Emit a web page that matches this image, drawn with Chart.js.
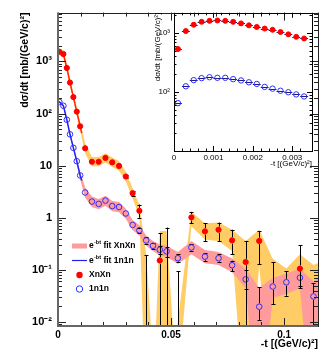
<!DOCTYPE html>
<html><head><meta charset="utf-8">
<script src="https://cdn.jsdelivr.net/npm/chart.js@4.4.1/dist/chart.umd.min.js"></script>
<style>
html,body{margin:0;padding:0;background:#fff;}
#wrap{position:relative;width:332px;height:354px;overflow:hidden;}
#main{position:absolute;left:0;top:0;width:332px;height:354px;}
#inset{position:absolute;left:145px;top:4px;width:172px;height:166px;}
</style></head><body>
<div id="wrap">
<canvas id="main" width="332" height="354"></canvas>
<canvas id="inset" width="172" height="166"></canvas>
</div>
<script>
// ---------- main panel data ----------
const tBins = [0.0006,0.0024,0.0039,0.0053,0.0068,0.0083,0.0098,0.012,0.015,0.018,0.021,0.024,0.027,0.030,0.033,0.036,0.039,0.042,0.045,0.048,0.053,0.059,0.065,0.071,0.077,0.083,0.089,0.095,0.101,0.107,0.113];
const xnxn   = [1535,1386,750,394,207,109,57,21.6,11.9,11.9,14.1,11.6,9.9,6.2,2.97,1.36,null,null,0.152,null,null,1.02,0.55,0.59,0.37,0.142,0.36,null,null,0.106,null];
const xnxnHi = [null,null,null,null,null,null,null,null,null,null,null,null,null,6.7,3.3,1.8,0.19,null,0.51,0.65,0.094,1.3,0.79,0.81,0.59,0.36,0.56,null,null,0.30,null];
const xnxnLo = [null,null,null,null,null,null,null,null,null,null,null,null,null,5.7,2.65,1.0,0.0001,null,0.0001,0.0001,0.0001,0.79,0.36,0.36,0.2,0.0001,0.13,null,null,0.05,null];
const n1n1   = [167,141,76,40,22,12.2,6.5,3.06,2.05,1.85,2.14,1.68,1.61,1.21,0.73,0.575,0.368,0.29,0.244,0.227,0.168,0.27,0.18,0.168,0.123,0.066,0.0197,0.048,0.058,0.071,0.031];
const n1n1Hi = [null,null,null,null,null,null,null,null,null,null,null,null,null,null,null,0.65,0.42,0.33,0.29,0.28,0.2,0.31,0.21,0.2,0.15,0.1,0.047,0.14,0.095,0.11,0.056];
const n1n1Lo = [null,null,null,null,null,null,null,null,null,null,null,null,null,null,null,0.5,0.32,0.25,0.2,0.18,0.14,0.23,0.15,0.14,0.095,0.043,0.011,0.022,0.032,0.045,0.0001];

// systematic bands
const orangeT  = [0.0006,0.0024,0.0039,0.0053,0.0068,0.0083,0.0098,0.012,0.015,0.018,0.021,0.024,0.027,0.030,0.033,0.036,0.039,0.0425,0.045,0.048,0.0515,0.059,0.065,0.071,0.077,0.083,0.089,0.095,0.101,0.107,0.113,0.117];
const orangeHi = [1800,1620,880,460,245,130,69,27,14.6,14.6,17.3,14.3,12.2,7.7,3.7,1.75,0.2,0.001,0.56,0.56,0.003,1.3,0.79,0.81,0.59,0.36,0.59,0.164,0.106,0.2,0.124,0.15];
const orangeLo = [1300,1180,640,335,175,91,47,17.4,9.7,9.7,11.5,9.4,8.0,5.0,2.35,1.05,0.0001,0.0001,0.0001,0.0001,0.0001,0.69,0.38,0.36,0.23,0.0001,0.124,0.0001,0.0001,0.0001,0.0001,0.0001];
const pinkT  = [0.0006,0.0024,0.0039,0.0053,0.0068,0.0083,0.0098,0.012,0.015,0.018,0.021,0.024,0.027,0.030,0.033,0.036,0.039,0.042,0.045,0.048,0.053,0.059,0.065,0.071,0.077,0.083,0.089,0.095,0.101,0.107,0.113,0.117];
const pinkHi = [176,149,81,43,24,13.6,7.6,3.8,2.55,2.3,2.65,2.1,2.0,1.5,0.91,0.72,0.46,0.36,0.31,0.29,0.22,0.36,0.24,0.22,0.165,0.105,0.045,0.07,0.085,0.105,0.06,0.08];
const pinkLo = [158,133,71,37,20,10.9,5.5,2.45,1.62,1.46,1.7,1.33,1.28,0.96,0.58,0.46,0.29,0.23,0.19,0.18,0.13,0.2,0.135,0.125,0.09,0.045,0.0001,0.029,0.035,0.044,0.0001,0.0001];

// e^{-bt} fits
const fitT    = [0,0.0006,0.0024,0.0039,0.0053,0.0068,0.0083,0.0098,0.0105];
const fitXnXn = [1600,1535,1386,750,394,207,109,57,42];
const fit1n1n = [172,167,141,76,40,22,12.2,6.5,5.2];

// axis ticks
const yMajor = [0.01,0.1,1,10,100,1000];
const yTickLabels = ['10\u207B\u00B2','10\u207B\u00B9','1','10','10\u00B2','10\u00B3'];
const xLabelled = [0,0.05,0.1];
const xTickLabels = ['0','0.05','0.1'];
const legendTexts = ['fit XnXn','fit 1n1n','XnXn','1n1n'];

// ---------- inset data ----------
const insetT = [0.0001,0.0003,0.0005,0.0007,0.0009,0.0011,0.0013,0.0015,0.0017,0.0019,0.0021,0.0023,0.0025,0.0027,0.0029,0.0031,0.0033];
const insetXnXn = [535,1078,1381,1546,1606,1630,1606,1546,1456,1350,1267,1189,1132,1038,949,861,807];
const insetN1n1 = [64.7,125,159,172,178,174,174,165,157,146,137,122,114,105,99,91,84];
const insetYMajor = [100,1000];
const insetYLabels = ['10\u00B2','10\u00B3'];
const insetXLabelled = [0,0.001,0.002,0.003];
const insetXLabels = ['0','0.001','0.002','0.003'];

const FONT = "'Liberation Sans', Arial, Helvetica, sans-serif";
const RED = '#ff0000', BLUE = '#2e2eff';
const pts = (ts, vs) => ts.map((t, i) => ({x: t, y: vs[i]}));

function labelFor(v, vals, labels, tol) {
  for (let i = 0; i < vals.length; i++) if (Math.abs(v - vals[i]) < tol) return labels[i];
  return '';
}

function framePlugin(o) {
  return {
    id: 'frame',
    afterDraw(chart) {
      const {ctx, chartArea: a, scales: {x, y}} = chart;
      ctx.save();
      ctx.strokeStyle = o.color; ctx.lineWidth = 1;
      ctx.beginPath();
      x.ticks.forEach(t => {
        const px = Math.round(x.getPixelForValue(t.value)) + 0.5;
        if (px < a.left - 0.5 || px > a.right + 0.5) return;
        const L = labelFor(t.value, o.xMajors, o.xMajors, 1e-9) !== '' ? o.majorLen : o.minorLen;
        ctx.moveTo(px, a.bottom); ctx.lineTo(px, a.bottom - L);
        ctx.moveTo(px, a.top); ctx.lineTo(px, a.top + L);
      });
      const e0 = Math.floor(Math.log10(y.min)), e1 = Math.ceil(Math.log10(y.max));
      for (let e = e0; e <= e1; e++) for (let m = 1; m <= 9; m++) {
        const v = m * Math.pow(10, e);
        if (v < y.min || v > y.max) continue;
        const py = Math.round(y.getPixelForValue(v)) + 0.5;
        const L = m === 1 ? o.majorLen : o.minorLen;
        ctx.moveTo(a.left, py); ctx.lineTo(a.left + L, py);
        ctx.moveTo(a.right, py); ctx.lineTo(a.right - L, py);
      }
      ctx.stroke();
      ctx.strokeRect(Math.round(a.left) + 0.5, Math.round(a.top) + 0.5, Math.round(a.right - a.left), Math.round(a.bottom - a.top));
      if (o.axisColor) {
        ctx.strokeStyle = o.axisColor; ctx.lineWidth = 2;
        ctx.beginPath();
        ctx.moveTo(a.left, a.top); ctx.lineTo(a.left, a.bottom); ctx.lineTo(a.right, a.bottom);
        ctx.stroke();
      }
      ctx.restore();
    }
  };
}

function errPlugin(specs) {
  return {
    id: 'errbars',
    beforeDatasetDraw(chart, args) {
      const s = specs.find(q => q.index === args.index);
      if (!s) return;
      const {ctx, chartArea: a, scales: {x, y}} = chart;
      ctx.save();
      ctx.beginPath(); ctx.rect(a.left, a.top, a.right - a.left, a.bottom - a.top); ctx.clip();
      ctx.strokeStyle = s.color; ctx.lineWidth = 1;
      ctx.beginPath();
      s.t.forEach((t, i) => {
        const v = s.v[i];
        if (s.horizontal) {
          if (v == null) return;
          const py = Math.round(y.getPixelForValue(v)) + 0.5;
          ctx.moveTo(x.getPixelForValue(t - s.half), py); ctx.lineTo(x.getPixelForValue(t + s.half), py);
          return;
        }
        const hi = s.hi[i], lo = s.lo[i];
        if (hi == null || lo == null) return;
        const px = Math.round(x.getPixelForValue(t)) + 0.5;
        const yh = y.getPixelForValue(hi), yl = y.getPixelForValue(lo);
        if (v != null && v >= y.min) {
          const yc = y.getPixelForValue(v);
          if (yh < yc - s.r) { ctx.moveTo(px, yh); ctx.lineTo(px, yc - s.r); }
          if (yl > yc + s.r) { ctx.moveTo(px, yc + s.r); ctx.lineTo(px, yl); }
        } else { ctx.moveTo(px, yh); ctx.lineTo(px, yl); }
        ctx.moveTo(px - s.cap, Math.round(yh) + 0.5); ctx.lineTo(px + s.cap, Math.round(yh) + 0.5);
        ctx.moveTo(px - s.cap, Math.round(yl) + 0.5); ctx.lineTo(px + s.cap, Math.round(yl) + 0.5);
      });
      ctx.stroke();
      ctx.restore();
    }
  };
}

const legendPlugin = {
  id: 'legendBox',
  afterDraw(chart) {
    const ctx = chart.ctx;
    ctx.save();
    const x0 = 72, x1 = 87, xm = 79.5, xt = 89;
    const rows = [246, 260.5, 275, 289];
    // samples
    ctx.lineCap = 'butt';
    ctx.strokeStyle = '#ff9b9b'; ctx.lineWidth = 5;
    ctx.beginPath(); ctx.moveTo(x0, rows[0]); ctx.lineTo(x1, rows[0]); ctx.stroke();
    ctx.strokeStyle = '#2020ff'; ctx.lineWidth = 1.2;
    ctx.beginPath(); ctx.moveTo(x0, rows[1]); ctx.lineTo(x1, rows[1]); ctx.stroke();
    ctx.fillStyle = RED;
    ctx.beginPath(); ctx.arc(xm, rows[2], 3.2, 0, Math.PI * 2); ctx.fill();
    ctx.strokeStyle = BLUE; ctx.lineWidth = 1;
    ctx.beginPath(); ctx.arc(xm, rows[3], 3.2, 0, Math.PI * 2); ctx.stroke();
    // texts
    ctx.fillStyle = '#000'; ctx.textBaseline = 'middle'; ctx.textAlign = 'left';
    for (let i = 0; i < 2; i++) {
      let x = xt;
      ctx.font = 'bold 8.5px ' + FONT;
      ctx.fillText('e', x, rows[i]); x += ctx.measureText('e').width + 0.3;
      ctx.font = 'bold 5.5px ' + FONT;
      ctx.fillText('-bt', x, rows[i] - 3.5); x += ctx.measureText('-bt').width;
      ctx.font = 'bold 8.5px ' + FONT;
      ctx.fillText(' ' + legendTexts[i], x, rows[i]);
    }
    ctx.font = 'bold 8.5px ' + FONT;
    ctx.fillText(legendTexts[2], xt, rows[2]);
    ctx.fillText(legendTexts[3], xt, rows[3]);
    ctx.restore();
  }
};

const bandLine = {showLine: true, borderWidth: 0, borderColor: 'rgba(0,0,0,0)', pointRadius: 0, tension: 0};

new Chart(document.getElementById('main'), {
  type: 'scatter',
  data: {
    datasets: [
      {data: pts(tBins, xnxn), showLine: false, pointRadius: 2.6, pointBorderWidth: 1, pointBackgroundColor: RED, pointBorderColor: RED, order: 0},
      {data: pts(tBins, n1n1), showLine: false, pointRadius: 2.8, pointBorderWidth: 1, pointBackgroundColor: 'rgba(0,0,0,0)', pointBorderColor: BLUE, order: 1},
      {data: pts(fitT, fitXnXn), showLine: true, borderColor: '#ff2a00', borderWidth: 1.5, pointRadius: 0, order: 2},
      {data: pts(fitT, fit1n1n), showLine: true, borderColor: '#2020ff', borderWidth: 1.5, pointRadius: 0, order: 3},
      Object.assign({data: pts(pinkT, pinkLo), fill: false, order: 4}, bandLine),
      Object.assign({data: pts(pinkT, pinkHi), fill: 4, backgroundColor: '#ff9b9b', order: 4}, bandLine),
      Object.assign({data: pts(orangeT, orangeLo), fill: false, order: 6}, bandLine),
      Object.assign({data: pts(orangeT, orangeHi), fill: 6, backgroundColor: '#ffcc66', order: 6}, bandLine)
    ]
  },
  options: {
    responsive: false, animation: false, events: [],
    layout: {padding: {top: 3, right: 14, left: 0, bottom: 0}},
    plugins: {legend: {display: false}, tooltip: {enabled: false}},
    scales: {
      x: {
        type: 'linear', min: 0, max: 0.115,
        grid: {display: false, drawTicks: false}, border: {display: false},
        ticks: {stepSize: 0.01, maxTicksLimit: 100, autoSkip: false, maxRotation: 0, minRotation: 0, padding: 3, color: '#000',
          font: {family: FONT, weight: 'bold', size: 10},
          callback: v => labelFor(v, xLabelled, xTickLabels, 1e-6)},
        title: {display: true, text: '-t [(GeV/c)\u00B2]', align: 'end', color: '#000',
          font: {family: FONT, weight: 'bold', size: 10.5}, padding: {top: 0, bottom: 4}},
        afterFit: s => { s.height = 28; }
      },
      y: {
        type: 'logarithmic', min: 0.0084, max: 8650,
        grid: {display: false, drawTicks: false}, border: {display: false},
        afterBuildTicks: s => { s.ticks = yMajor.map(v => ({value: v})); },
        ticks: {autoSkip: false, padding: 6, color: '#000', font: {family: FONT, weight: 'bold', size: 11},
          callback: v => labelFor(v, yMajor, yTickLabels, 1e-9)},
        title: {display: true, text: 'd\u03C3/dt [mb/(GeV/c)\u00B2]', align: 'end', color: '#000',
          font: {family: FONT, weight: 'bold', size: 10.5}, padding: {top: 19, bottom: 0}},
        afterFit: s => { s.width = 58; }
      }
    }
  },
  plugins: [
    errPlugin([
      {index: 0, t: tBins, v: xnxn, hi: xnxnHi, lo: xnxnLo, r: 3.2, cap: 2, color: '#000'},
      {index: 1, t: tBins, v: n1n1, hi: n1n1Hi, lo: n1n1Lo, r: 3.4, cap: 2, color: '#000'}
    ]),
    framePlugin({color: '#222', axisColor: '#666', majorLen: 8, minorLen: 4, xMajors: xLabelled}),
    legendPlugin
  ]
});

new Chart(document.getElementById('inset'), {
  type: 'scatter',
  data: {
    datasets: [
      {data: pts(insetT, insetXnXn), pointRadius: 2.5, pointBorderWidth: 1, pointBackgroundColor: RED, pointBorderColor: RED, order: 0},
      {data: pts(insetT, insetN1n1), pointRadius: 2.7, pointBorderWidth: 1, pointBackgroundColor: 'rgba(0,0,0,0)', pointBorderColor: BLUE, order: 1}
    ]
  },
  options: {
    responsive: false, animation: false, events: [],
    layout: {padding: {top: 5, right: 3, left: 0, bottom: 0}},
    plugins: {legend: {display: false}, tooltip: {enabled: false}},
    scales: {
      x: {
        type: 'linear', min: 0, max: 0.0035,
        grid: {display: false, drawTicks: false}, border: {display: false},
        ticks: {stepSize: 0.0002, maxTicksLimit: 100, autoSkip: false, maxRotation: 0, minRotation: 0, padding: 2, color: '#000',
          font: {family: FONT, size: 8},
          callback: v => labelFor(v, insetXLabelled, insetXLabels, 1e-8)},
        title: {display: true, text: '-t [(GeV/c)\u00B2]', align: 'end', color: '#000',
          font: {family: FONT, size: 8}, padding: {top: 0, bottom: 1}},
        afterFit: s => { s.height = 19; }
      },
      y: {
        type: 'logarithmic', min: 10, max: 2200,
        grid: {display: false, drawTicks: false}, border: {display: false},
        afterBuildTicks: s => { s.ticks = insetYMajor.map(v => ({value: v})); },
        ticks: {autoSkip: false, padding: 4, color: '#000', font: {family: FONT, size: 8},
          callback: v => labelFor(v, insetYMajor, insetYLabels, 1e-6)},
        title: {display: true, text: 'd\u03C3/dt [mb/(GeV/c)\u00B2]', align: 'end', color: '#000',
          font: {family: FONT, size: 8}, padding: {top: 8, bottom: 0}},
        afterFit: s => { s.width = 29; }
      }
    }
  },
  plugins: [
    errPlugin([
      {index: 0, t: insetT, v: insetXnXn, horizontal: true, half: 0.0001, color: '#1a1a80'},
      {index: 1, t: insetT, v: insetN1n1, horizontal: true, half: 0.0001, color: '#1a1a80'}
    ]),
    framePlugin({color: '#000', majorLen: 5, minorLen: 2.5, xMajors: insetXLabelled})
  ]
});
</script>
</body></html>
